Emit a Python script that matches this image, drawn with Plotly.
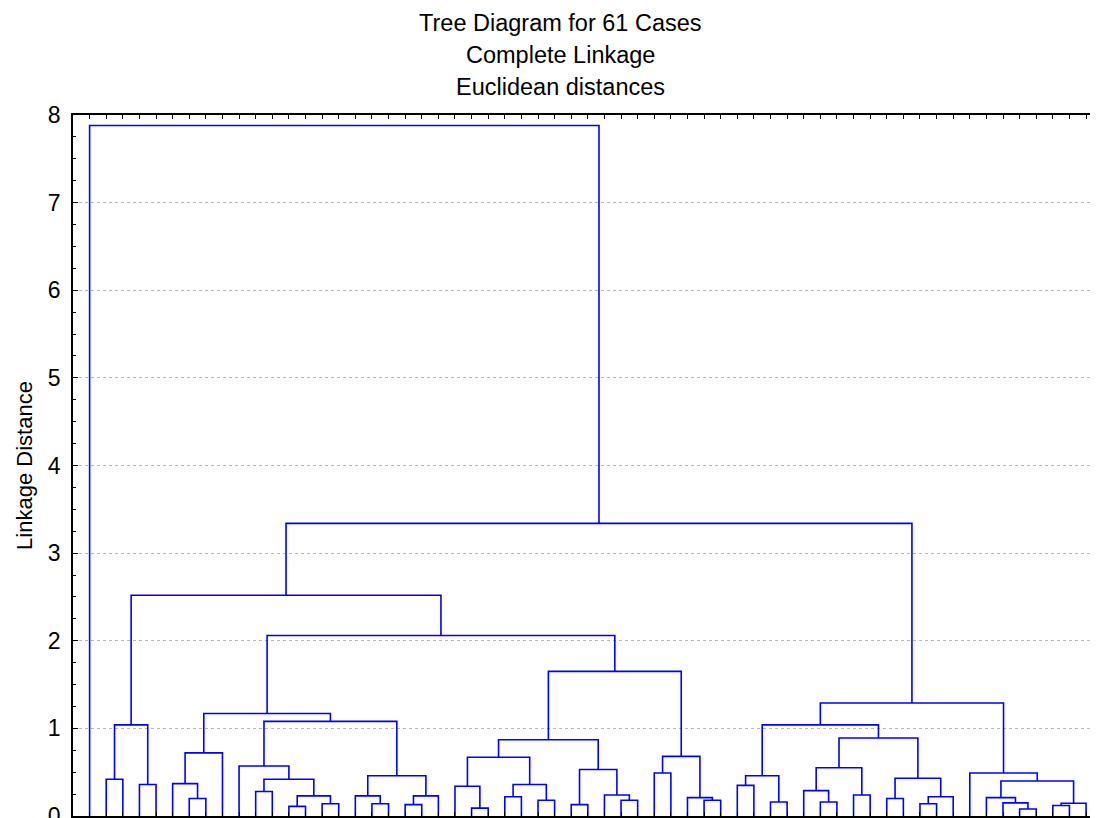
import plotly.graph_objects as go

# ---- data: leaves 1..61 in display order; negative ids refer to earlier merges (1-based)
merge_left = [2, 4, -1, 7, 6, -5, 11, 13, 15, -8, -7, 10, 18, 17, 20, -15, -14, -12, -6,
              24, 23, 26, 28, -22, -21, 30, 33, 32, -26, -25, 35, 38, 37, -31, -30, -19, -3,
              40, 42, -38, 45, 44, 47, -42, 49, 51, -46, -45, -44, -40,
              57, 56, 55, 59, -54, -53, 54, -50, -37, 1]
merge_right = [3, 5, -2, 8, -4, 9, 12, 14, 16, -9, -10, -11, 19, -13, 21, 22, -16, -17, -18,
               25, -20, 27, 29, -23, -24, 31, 34, -27, -28, -29, 36, 39, -32, -33, -34, -35, -36,
               41, 43, -39, 46, -41, 48, -43, 50, 52, 53, -47, -48, -49,
               58, -51, -52, 60, 61, -55, -56, -57, -58, -59]
merge_height = [0.42, 0.36, 1.04, 0.20, 0.37, 0.72, 0.28, 0.11, 0.14, 0.23, 0.42, 0.57, 0.14,
                0.23, 0.13, 0.23, 0.46, 1.08, 1.17,
                0.09, 0.34, 0.22, 0.18, 0.36, 0.67, 0.13, 0.18, 0.24, 0.53, 0.87, 0.49, 0.18,
                0.21, 0.68, 1.65, 2.06, 2.52,
                0.35, 0.16, 0.46, 0.16, 0.29, 0.24, 0.55, 0.20, 0.14, 0.22, 0.43, 0.89, 1.04,
                0.08, 0.15, 0.21, 0.12, 0.145, 0.40, 0.49, 1.29, 3.34, 7.88]
n_cases = 61
y_ticks = [0, 1, 2, 3, 4, 5, 6, 7, 8]
title_lines = ["Tree Diagram for 61 Cases", "Complete Linkage", "Euclidean distances"]
y_title = "Linkage Distance"

# ---- build U-shaped links from the merge table
pos = {}
hgt = {}


def node(i):
    if i > 0:
        return float(i), 0.0
    return pos[-i], hgt[-i]


xs, ys = [], []
for k, (a, b, h) in enumerate(zip(merge_left, merge_right, merge_height), start=1):
    xa, ha = node(a)
    xb, hb = node(b)
    xs += [xa, xa, xb, xb, None]
    ys += [ha, h, h, hb, None]
    pos[k] = (xa + xb) / 2
    hgt[k] = h

fig = go.Figure()
fig.add_trace(go.Scatter(x=xs, y=ys, mode="lines",
                         line=dict(color="#0000ff", width=1.6),
                         hoverinfo="skip", showlegend=False))

FONT = "Liberation Sans, Arial, sans-serif"
OFF = 8  # page body margin
W, H = 1098 - OFF, 818 - OFF
L, R, T, B = 73 - OFF, 0, 115 - OFF, 2

fig.update_layout(
    width=W, height=H,
    margin=dict(l=L, r=R, t=T, b=B),
    paper_bgcolor="white", plot_bgcolor="white",
    font=dict(family=FONT, color="black", size=23),
    showlegend=False,
)

for i, txt in enumerate(title_lines):
    ypx = [23, 55, 87][i] - OFF
    fig.add_annotation(text=txt, xref="paper", yref="paper",
                       x=(560 - OFF - L) / (W - L - R), y=(H - B - ypx) / (H - T - B),
                       xanchor="center", yanchor="middle", showarrow=False,
                       font=dict(family=FONT, size=23.5, color="black"))

fig.update_xaxes(range=[0, 61.72], showgrid=False, zeroline=False, automargin=False,
                 showline=True, linecolor="black", linewidth=1.5, mirror="ticks",
                 ticks="inside", tickvals=list(range(1, n_cases + 1)), ticklen=4,
                 tickcolor="black", tickwidth=1, showticklabels=False)
fig.update_yaxes(range=[0, 8], tickvals=y_ticks, ticks="inside", ticklen=5,
                 tickcolor="black", tickwidth=1, automargin=False,
                 minor=dict(dtick=0.25, ticks="inside", ticklen=3, tickcolor="black", showgrid=False),
                 showgrid=True, gridcolor="#b8b8b8", griddash="dot", gridwidth=1,
                 showline=True, linecolor="black", linewidth=1.5, mirror=False, zeroline=False,
                 ticklabelstandoff=6, ticklabeloverflow="allow",
                 title=dict(text=y_title, font=dict(family=FONT, size=22), standoff=9))

fig.write_html("out.html")
